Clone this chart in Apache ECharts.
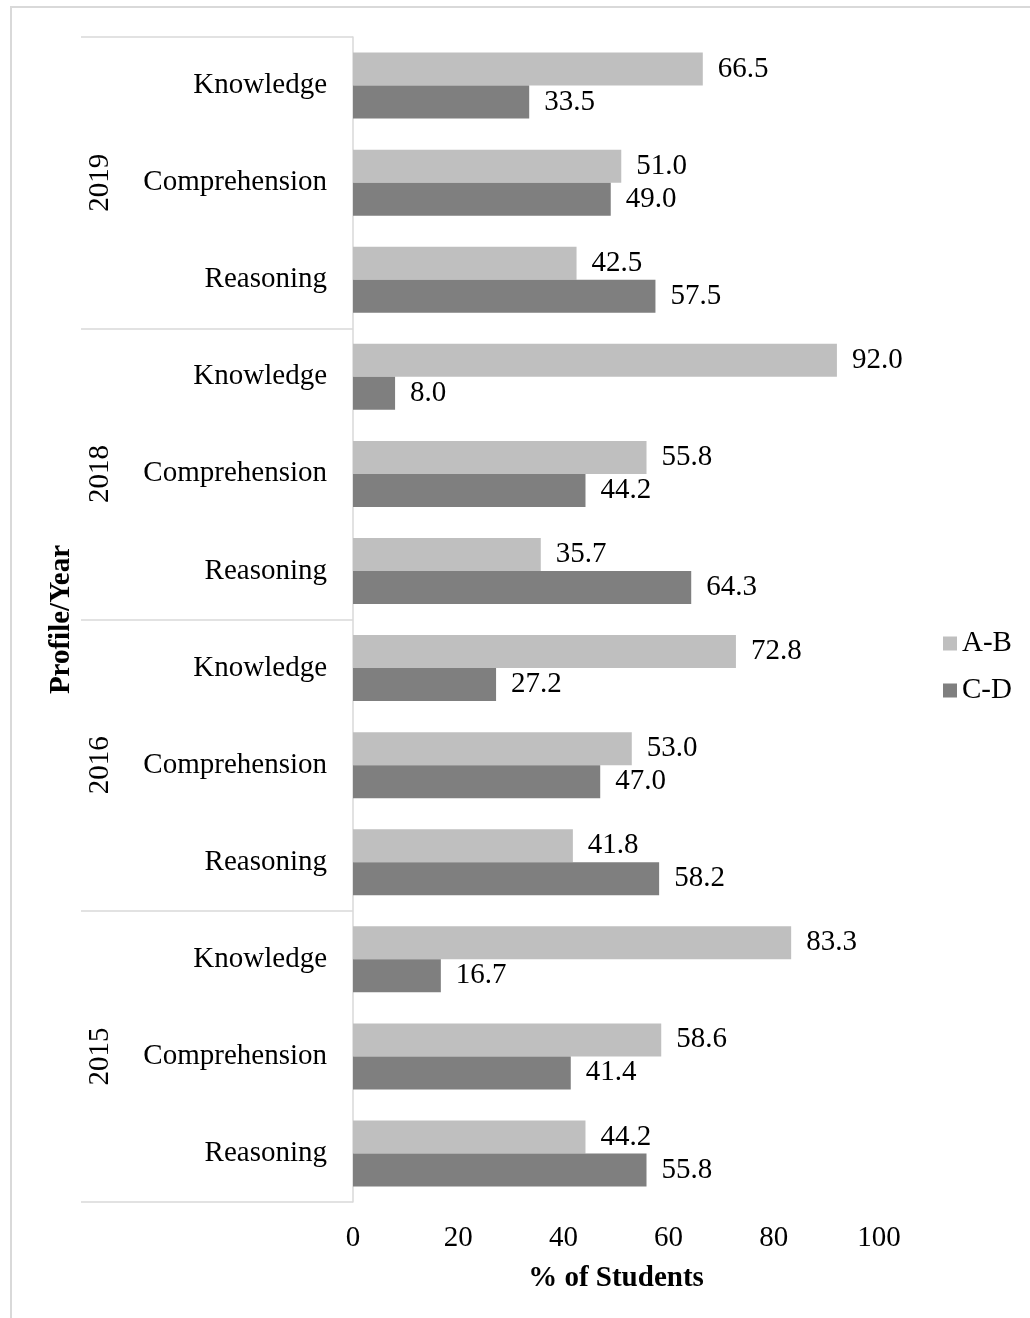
<!DOCTYPE html>
<html>
<head>
<meta charset="utf-8">
<title>Profile/Year</title>
<script src="https://cdn.jsdelivr.net/npm/echarts@6/dist/echarts.min.js"></script>
<style>
  html, body { margin: 0; padding: 0; background: #ffffff; }
  #chart { width: 1030px; height: 1318px; }
</style>
</head>
<body>
<div id="chart"></div>
<script>
// Groups (top to bottom) and the three profiles inside each group
const years = ['2019', '2018', '2016', '2015'];
const profiles = ['Knowledge', 'Comprehension', 'Reasoning'];

// % of students per profile, in the same order as years × profiles
const gradeAB = [66.5, 51.0, 42.5, 92.0, 55.8, 35.7, 72.8, 53.0, 41.8, 83.3, 58.6, 44.2];
const gradeCD = [33.5, 49.0, 57.5, 8.0, 44.2, 64.3, 27.2, 47.0, 58.2, 16.7, 41.4, 55.8];

const xTicks = [0, 20, 40, 60, 80, 100];
const seriesNames = ['A-B', 'C-D'];

const FONT = '"Liberation Serif", "Times New Roman", serif';
const FONT_SIZE = 29;
const GRID_LINE = '#d9d9d9';

// One unique category per year/profile pair; only the profile is shown
const categories = [];
years.forEach(y => profiles.forEach(p => categories.push(y + '|' + p)));

const chart = echarts.init(document.getElementById('chart'), null, { renderer: 'canvas' });

const valueLabel = {
  show: true,
  position: 'right',
  distance: 15,
  fontFamily: FONT,
  fontSize: FONT_SIZE,
  color: '#000000',
  formatter: p => Number(p.value).toFixed(1)
};

chart.setOption({
  backgroundColor: '#ffffff',
  animation: false,
  textStyle: { fontFamily: FONT },
  graphic: [{
    type: 'rect',
    shape: { x: 11, y: 7, width: 1040, height: 1340 },
    style: { fill: 'none', stroke: GRID_LINE, lineWidth: 2 },
    silent: true,
    z: -10
  }],
  grid: { left: 353, right: 151, top: 37, bottom: 116, containLabel: false },
  legend: {
    orient: 'vertical',
    left: 943,
    top: 629,
    padding: 0,
    itemWidth: 14,
    itemHeight: 14,
    itemGap: 18,
    icon: 'rect',
    data: seriesNames,
    textStyle: { fontFamily: FONT, fontSize: FONT_SIZE, color: '#000000' }
  },
  xAxis: {
    type: 'value',
    min: xTicks[0],
    max: xTicks[xTicks.length - 1],
    interval: xTicks[1] - xTicks[0],
    splitLine: { show: false },
    axisLine: { show: false },
    axisTick: { show: false },
    axisLabel: { fontFamily: FONT, fontSize: FONT_SIZE, color: '#000000', margin: 22 },
    name: '% of Students',
    nameLocation: 'middle',
    nameGap: 62,
    nameTextStyle: { fontFamily: FONT, fontSize: FONT_SIZE, fontWeight: 'bold', color: '#000000' }
  },
  yAxis: [{
    type: 'category',
    data: categories,
    inverse: true,
    axisLine: { show: true, lineStyle: { color: GRID_LINE, width: 1.5 } },
    axisTick: { show: false },
    axisLabel: {
      fontFamily: FONT,
      fontSize: FONT_SIZE,
      color: '#000000',
      margin: 26,
      formatter: v => v.split('|')[1]
    },
    name: 'Profile/Year',
    nameLocation: 'middle',
    nameRotate: 90,
    nameGap: 277,
    nameTextStyle: { fontFamily: FONT, fontSize: FONT_SIZE, fontWeight: 'bold', color: '#000000' }
  }, {
    // Year groups: long ticks mark the group boundaries
    type: 'category',
    data: years,
    inverse: true,
    position: 'left',
    axisLine: { show: false },
    axisTick: { show: true, interval: 0, length: 272, lineStyle: { color: GRID_LINE, width: 1.5 } },
    axisLabel: {
      fontFamily: FONT,
      fontSize: FONT_SIZE,
      color: '#000000',
      rotate: 90,
      margin: 253,
      align: 'center',
      verticalAlign: 'middle'
    }
  }],
  series: [{
    name: seriesNames[0],
    type: 'bar',
    yAxisIndex: 0,
    data: gradeAB,
    barWidth: 33,
    barGap: '0%',
    itemStyle: { color: '#bfbfbf' },
    label: valueLabel
  }, {
    name: seriesNames[1],
    type: 'bar',
    yAxisIndex: 0,
    data: gradeCD,
    barWidth: 33,
    barGap: '0%',
    itemStyle: { color: '#7f7f7f' },
    label: valueLabel
  }]
});
</script>
</body>
</html>
